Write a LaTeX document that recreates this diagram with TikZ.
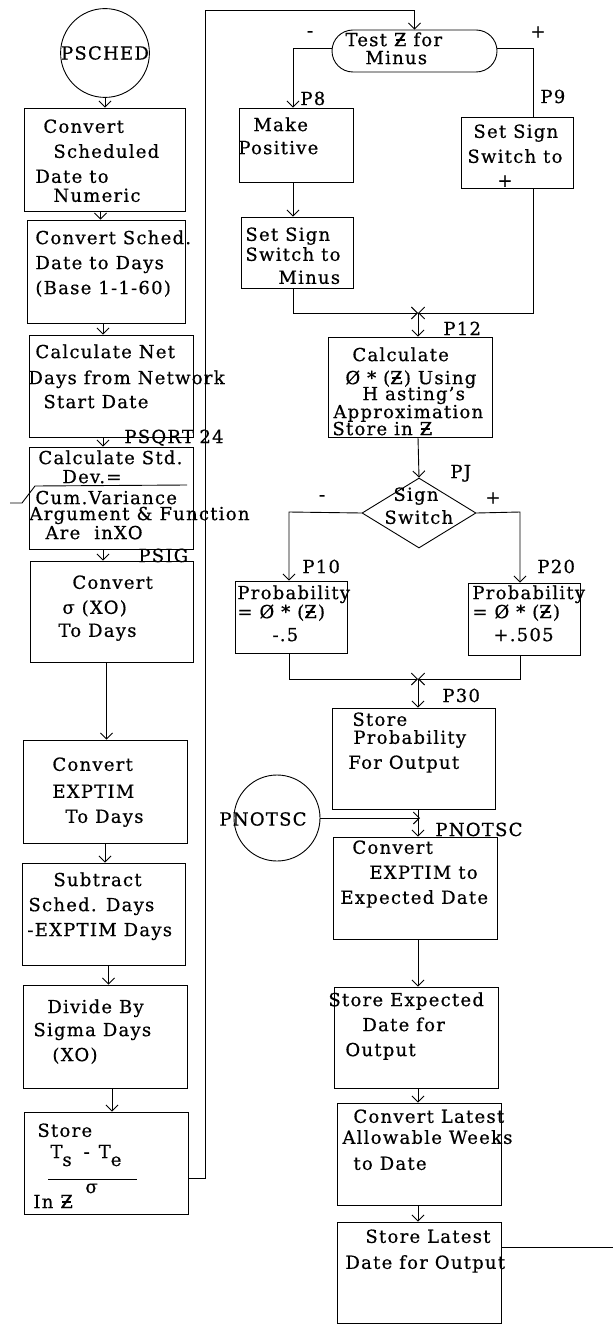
\documentclass[tikz,border=0pt]{standalone}
\usepackage{fontspec}
\setmainfont[LetterSpace=7,FakeBold=0.6]{DejaVu Serif}
\usetikzlibrary{arrows.meta,shapes.geometric,shapes.misc,calc}
\newcommand\zb{{\setbox0\hbox{Z}\rlap{\hbox to\wd0{\hss\rule[0.3em]{0.5em}{0.08em}\hss}}Z}}
\newcommand\mybox[5]{\node[box, minimum width={(#4-#2)*1pt}, minimum height={(#5-#3)*1pt}] (#1) at ({(#2+#4)/2},{(#3+#5)/2}) {};}
\begin{document}
\begin{tikzpicture}[x=1pt,y=-1pt, line width=0.9pt,
  box/.style={draw, rectangle, inner sep=0pt},
  txt/.style={anchor=north west, inner sep=0pt, align=left, font=\fontsize{18}{20}\selectfont},
  lbl/.style={anchor=base west, inner sep=0pt, font=\fontsize{18}{20}\selectfont},
  arr/.style={-{Straight Barb[length=6pt,width=12pt]}}]
\useasboundingbox (0,0) rectangle (613,1324);

% ---------- left column ----------
\node[draw, circle, minimum size=88pt, inner sep=0pt, font=\fontsize{18}{20}\selectfont] (c1) at (105,53) {PSCHED};
\mybox{b1}{24}{108}{185}{211}
\mybox{b2}{27}{220}{185}{323}
\mybox{b3}{29}{335}{193}{437}
\mybox{b4}{29}{447}{193}{549}
\mybox{b5}{30}{561}{193}{662}
\mybox{b6}{23}{740}{187}{843}
\mybox{b7}{22}{863}{185}{965}
\mybox{b8}{23}{985}{187}{1088}
\mybox{b9}{24}{1112}{188}{1214}

\node[txt] (t1) at (35,119) {\hspace*{8pt}Convert\\[5pt]\hspace*{18pt}Scheduled\\[5pt]Date to\\[-1pt]\hspace*{18pt}Numeric};
\node[txt] (t2) at (35,230) {Convert Sched.\\[5pt]Date to Days\\[5pt](Base 1-1-60)};
\node[txt] (t3) at (28,344) {\hspace*{7pt}Calculate Net\\[6pt]Days from Network\\[4pt]\hspace*{15pt}Start Date};
\node[txt] (t4) at (29,450) {\hspace*{9pt}Calculate Std.\\[-1pt]\hspace*{33pt}Dev.=\\[1pt]\hspace*{6pt}Cum.Variance\\[-4pt]Argument \& Function\\[-1pt]\hspace*{16pt}Are\ \ inXO};
\draw (10,503) -- (22,503) -- (35,486) -- (187,485);
\node[txt] (t5) at (58,575) {\hspace*{14pt}Convert\\[5pt]\hspace*{4pt}σ (XO)\\[3pt]To Days};
\node[txt] (t6) at (52,757) {Convert\\[7pt]EXPTIM\\[5pt]\hspace*{13pt}To Days};
\node[txt] (t7) at (27,872) {\hspace*{26pt}Subtract\\[5pt]\hspace*{1pt}Sched. Days\\[5pt]-EXPTIM Days};
\node[txt] (t8) at (33,999) {\hspace*{14pt}Divide By\\[3pt]Sigma Days\\[5pt]\hspace*{19pt}(XO)};
\node[txt] (t9a) at (37,1123) {Store};
\node[lbl] (t9b) at (50,1158) {T\raisebox{-8pt}{s}\hspace{12pt}-\hspace{9pt}T\raisebox{-8pt}{e}};
\draw (48,1179) -- (137,1179);
\node[lbl] (t9c) at (85,1193) {σ};
\node[lbl] (t9d) at (33,1208) {In \zb};

\node[lbl] (lpsqrt) at (124,443) {PSQRT};
\node[lbl] (l24) at (199,443) {24};
\node[lbl] (lpsig) at (138,562) {PSIG};

\draw[arr] (c1.south) -- (c1.south |- b1.north);
\draw[arr] ([xshift=-4pt]b1.south) -- ([xshift=-4pt]b1.south |- b2.north);
\draw[arr] ([xshift=-3pt]b2.south) -- ([xshift=-3pt]b2.south |- b3.north);
\draw[arr] ([xshift=-8pt]b3.south) -- ([xshift=-8pt]b3.south |- b4.north);
\draw[arr] ([xshift=-8pt]b4.south) -- ([xshift=-8pt]b4.south |- b5.north);
\draw[arr] ([xshift=-5pt]b5.south) -- ([xshift=-5pt]b5.south |- b6.north);
\draw[arr] (b6.south) -- (b6.south |- b7.north);
\draw[arr] ([xshift=5pt]b7.south) -- ([xshift=5pt]b7.south |- b8.north);
\draw[arr] ([xshift=7pt]b8.south) -- ([xshift=7pt]b8.south |- b9.north);

% ---------- right column ----------
\node[draw, rounded rectangle, minimum width=165pt, minimum height=42pt, inner sep=0pt] (test) at (414.5,51) {};
\node[txt] (ttest) at (345,32) {Test \zb\ for\\[-2pt]\hspace*{20pt}Minus};
\mybox{p8}{239}{108}{353}{182}
\mybox{p9}{461}{117}{573}{188}
\mybox{m}{241}{217}{353}{288}
\mybox{p12}{328}{337}{492}{437}
\node[draw, diamond, minimum width=114pt, minimum height=70pt, inner sep=0pt] (dia) at (419,513) {};
\mybox{p10}{235}{581}{347}{653}
\mybox{p20}{468}{583}{580}{655}
\mybox{p30}{332}{708}{495}{809}
\node[draw, circle, minimum size=86pt, inner sep=0pt] (c2) at (277,818) {};
\mybox{pn}{333}{837}{497}{939}
\mybox{se}{334}{987}{498}{1088}
\mybox{cl}{337}{1103}{501}{1205}
\mybox{sl}{337}{1222}{501}{1323}

\node[txt] (tp8) at (238,117) {\hspace*{15pt}Make\\[3pt]Positive};
\node[txt] (tp9) at (467,124) {\hspace*{6pt}Set Sign\\[5pt]Switch to\\[4pt]\hspace*{30pt}+};
\node[txt] (tm) at (245,227) {Set Sign\\[0pt]Switch to\\[3pt]\hspace*{33pt}Minus};
\node[txt] (tp12) at (332,347) {\hspace*{20pt}Calculate\\[3pt]\hspace*{13pt}Ø * (\zb) Using\\[-4pt]\hspace*{30pt}H asting's\\[-2pt]\hspace*{1pt}Approximation\\[-3pt]Store in \zb};
\node[txt] (tdia) at (384,487) {\hspace*{9pt}Sign\\[3pt]Switch};
\node[txt] (tp10) at (237,585) {Probability\\[-1pt]= Ø * (\zb)\\[3pt]\hspace*{35pt}-.5};
\node[txt] (tp20) at (472,585) {Probability\\[-1pt]= Ø * (\zb)\\[3pt]\hspace*{21pt}+.505};
\node[txt] (tp30) at (348,712) {\hspace*{4pt}Store\\[-2pt]\hspace*{5pt}Probability\\[5pt]For Output};
\node[lbl, anchor=center] (tc2) at (263,819) {PNOTSC};
\node[txt] (tpn) at (340,840) {\hspace*{12pt}Convert\\[5pt]\hspace*{29pt}EXPTIM to\\[5pt]Expected Date};
\node[txt] (tse) at (328,992) {Store Expected\\[5pt]\hspace*{34pt}Date for\\[5pt]\hspace*{17pt}Output};
\node[txt] (tcl) at (342,1109) {\hspace*{11pt}Convert Latest\\[1pt]Allowable Weeks\\[6pt]\hspace*{11pt}to Date};
\node[txt] (tsl) at (345,1229) {\hspace*{20pt}Store Latest\\[6pt]Date for Output};

\node[lbl] (lp8) at (300,105) {P8};
\node[lbl] (lp9) at (540,103) {P9};
\node[lbl, anchor=center] (lminus1) at (310,34) {-};
\node[lbl, anchor=center] (lplus1) at (538,32) {+};
\node[lbl] (lp12) at (443,335) {P12};
\node[lbl] (lpj) at (450,478) {PJ};
\node[lbl, anchor=center] (lminus2) at (322,498) {-};
\node[lbl, anchor=center] (lplus2) at (493,498) {+};
\node[lbl] (lp10) at (302,573) {P10};
\node[lbl] (lp20) at (537,573) {P20};
\node[lbl] (lp30) at (442,702) {P30};
\node[lbl] (lpn) at (435,836) {PNOTSC};

% connectors
\coordinate (r1) at (205,1178);
\coordinate (r2) at (205,10);
\coordinate (r3) at (414.5,10);
\draw[arr] (b9.east |- r1) -- (r1) -- (r2) -- (r3) -- (test.north);

\coordinate (tl) at (293,48);
\coordinate (tr) at (533,48);
\draw[arr] (test.west |- tl) -- (tl) -- (tl |- p8.north);
\draw (test.east |- tr) -- (tr) -- (tr |- p9.north);
\draw[arr] (tl |- p8.south) -- (tl |- m.north);

\coordinate (j1) at (418,313);
\draw[arr] (tl |- m.south) -- (tl |- j1) -- (j1);
\draw[arr] (tr |- p9.south) -- (tr |- j1) -- (j1);
\draw[arr] (j1) -- (j1 |- p12.north);
\draw[arr] (j1 |- p12.south) -- (dia.north);

\coordinate (dl) at (289,512);
\coordinate (dr) at (520,512);
\draw[arr] (dia.west) -- (dl) -- (dl |- p10.north);
\draw[arr] (dia.east) -- (dr) -- (dr |- p20.north);

\coordinate (j2) at (418,679);
\draw[arr] (dl |- p10.south) -- (dl |- j2) -- (j2);
\draw[arr] (dr |- p20.south) -- (dr |- j2) -- (j2);
\draw[arr] (j2) -- (j2 |- p30.north);
\draw[arr] (j2 |- p30.south) -- (j2 |- pn.north);
\coordinate (j3) at (420,818);
\draw[arr] (c2.east) -- (j3);
\draw[arr] (j2 |- pn.south) -- (j2 |- se.north);
\draw[arr] (j2 |- se.south) -- (j2 |- cl.north);
\draw[arr] (j2 |- cl.south) -- (j2 |- sl.north);
\coordinate (ex) at (613,1247);
\draw (sl.east |- ex) -- (ex);
\end{tikzpicture}
\end{document}
